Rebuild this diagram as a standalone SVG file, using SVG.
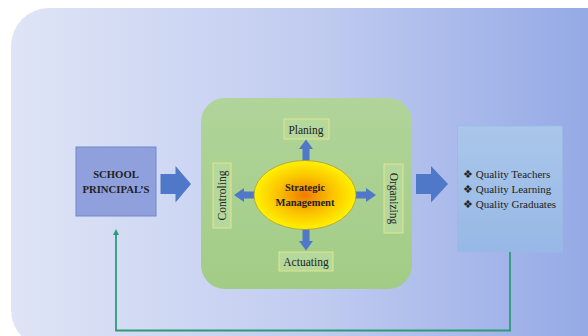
<svg xmlns="http://www.w3.org/2000/svg" width="588" height="336" viewBox="0 0 588 336">
<defs>
<linearGradient id="bg" x1="0" y1="0" x2="1" y2="0">
<stop offset="0" stop-color="#dfe5f6"/>
<stop offset="0.5" stop-color="#c0cbf0"/>
<stop offset="1" stop-color="#8ea4e4"/>
</linearGradient>
<linearGradient id="gr" x1="0" y1="0" x2="0" y2="1">
<stop offset="0" stop-color="#b0d49a"/>
<stop offset="1" stop-color="#a2cc86"/>
</linearGradient>
<linearGradient id="rb" x1="0" y1="0" x2="0" y2="1">
<stop offset="0" stop-color="#aac6ea"/>
<stop offset="1" stop-color="#97b8e6"/>
</linearGradient>
<radialGradient id="el" cx="0.5" cy="0.5" r="0.5">
<stop offset="0" stop-color="#f07a00"/>
<stop offset="0.55" stop-color="#fbc400"/>
<stop offset="1" stop-color="#fff200"/>
</radialGradient>
<marker id="ah" markerWidth="6" markerHeight="6" refX="3" refY="3" orient="auto" markerUnits="userSpaceOnUse">
<path d="M0,0 L6,3 L0,6 z" fill="#2e9a78"/>
</marker>
</defs>
<style>
.t{font-family:"Liberation Serif",serif;fill:#222;}
.b{font-weight:bold;}
.lbl{fill:#b5d89c;stroke:#e3e68a;stroke-width:1;}
.ar{fill:#4f79c8;}
.s{font-size:11.5px;}
.q{font-size:11px;}
</style>
<rect x="0" y="0" width="588" height="336" fill="#ffffff"/>
<rect x="11" y="8" width="620" height="340" rx="38" fill="url(#bg)"/>
<g id="strategic-panel">
<rect x="201" y="98" width="211" height="191" rx="24" fill="url(#gr)"/>
</g>
<g id="school-principal">
<rect x="76" y="147" width="80" height="69" fill="#8fa0dc" stroke="#7088cc" stroke-width="1"/>
<text class="t b" x="116" y="178" font-size="10.7" text-anchor="middle">SCHOOL</text>
<text class="t b" x="116" y="193" font-size="10.7" text-anchor="middle">PRINCIPAL’S</text>
</g>
<g id="outcomes">
<rect x="457.5" y="126" width="105" height="126" fill="url(#rb)" stroke="#9cb9e4" stroke-width="0.8"/>
<text class="t q" x="463" y="177.5">❖ Quality Teachers</text>
<text class="t q" x="463" y="192.5">❖ Quality Learning</text>
<text class="t q" x="463" y="207.5">❖ Quality Graduates</text>
</g>
<g id="planing">
<rect class="lbl" x="284" y="119" width="45" height="20"/>
<text class="t s" x="306" y="133.5" text-anchor="middle">Planing</text>
</g>
<g id="actuating">
<rect class="lbl" x="279" y="252" width="54" height="19"/>
<text class="t s" x="306" y="265.5" text-anchor="middle">Actuating</text>
</g>
<g id="controling">
<rect class="lbl" x="213" y="163" width="18" height="65"/>
<text class="t s" transform="translate(226,195.5) rotate(-90)" text-anchor="middle">Controling</text>
</g>
<g id="organizing">
<rect class="lbl" x="384" y="164" width="19" height="69"/>
<text class="t s" transform="translate(389.5,198.5) rotate(90)" text-anchor="middle">Organizing</text>
</g>
<g id="connectors">
<path class="ar" d="M160.5,174 H175.5 V166 L191,184 L175.5,202.5 V194 H160.5 z"/>
<path class="ar" d="M416,174 H431 V166 L448,184 L431,202.5 V194 H416 z"/>
<path class="ar" d="M302.5,161 V149 H299 L306,139.5 L313,149 H309.5 V161 z"/>
<path class="ar" d="M302.5,229 V241 H299 L306,250.5 L313,241 H309.5 V229 z"/>
<path class="ar" d="M255,191.5 H244 V188 L234,195 L244,202 V198.5 H255 z"/>
<path class="ar" d="M355,191.5 H366 V188 L376,195 L366,202 V198.5 H355 z"/>
<polyline points="510,252 510,330.5 116,330.5 116,232" fill="none" stroke="#2e9a78" stroke-width="1.8" marker-end="url(#ah)"/>
</g>
<g id="strategic-management">
<ellipse cx="305" cy="195" rx="51" ry="34.5" fill="url(#el)" stroke="#b39a3a" stroke-width="0.8"/>
<text class="t b" x="305" y="191" font-size="10.5" text-anchor="middle" fill="#333">Strategic</text>
<text class="t b" x="305" y="206" font-size="10.5" text-anchor="middle" fill="#333">Management</text>
</g>
</svg>
